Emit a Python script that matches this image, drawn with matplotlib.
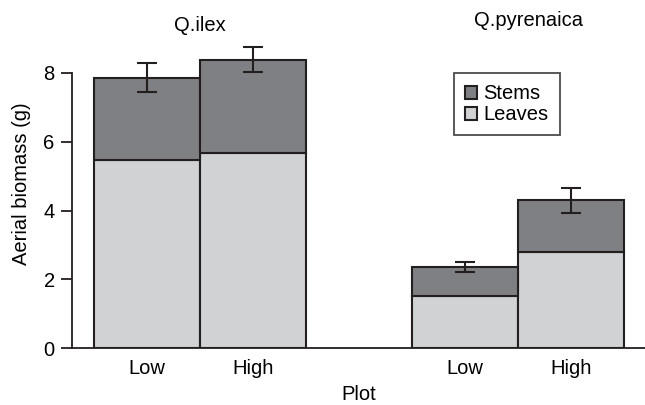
import numpy as np
import matplotlib
matplotlib.use("Agg")
import matplotlib.pyplot as plt

plt.rcParams['font.family'] = ['Liberation Sans', 'DejaVu Sans']

# data
species = ["Q.ilex", "Q.pyrenaica"]
plots = ["Low", "High", "Low", "High"]
leaves = [5.46, 5.68, 1.52, 2.78]
stems = [2.40, 2.71, 0.84, 1.52]
total_err = [0.42, 0.37, 0.15, 0.36]

xpos = np.array([0, 1, 3, 4])
dark = "#7f8083"
light = "#d1d2d4"
edge = "#231f20"
fs = 14.5

fig = plt.figure(figsize=(6.45, 4.05), dpi=100)
ax = fig.add_axes([72/645, 1-348/405, 1-72/645, (348-20)/405])

ax.bar(xpos, leaves, width=1.0, color=light, edgecolor=edge, linewidth=1.5, label="Leaves", zorder=2)
ax.bar(xpos, stems, width=1.0, bottom=leaves, color=dark, edgecolor=edge, linewidth=1.5, label="Stems", zorder=2)
tops = np.array(leaves) + np.array(stems)
ax.errorbar(xpos, tops, yerr=total_err, fmt="none", ecolor=edge, elinewidth=1.5,
            capsize=7, capthick=1.5, zorder=3)

ax.set_xlim(-0.705, 4.7)
ax.set_ylim(0, 8 * 328 / 275)
ax.spines['top'].set_visible(False)
ax.spines['right'].set_visible(False)
ax.spines['left'].set_bounds(0, 8)
for s in ['left', 'bottom']:
    ax.spines[s].set_linewidth(1.3)
    ax.spines[s].set_color(edge)
ax.set_yticks([0, 2, 4, 6, 8])
ax.tick_params(axis='y', length=8, width=1.3, color=edge, labelsize=fs, pad=4.5)
ax.set_xticks(xpos)
ax.set_xticklabels(plots)
ax.tick_params(axis='x', length=0, labelsize=fs, pad=8)
ax.set_ylabel("Aerial biomass (g)", fontsize=fs, labelpad=9)
ax.set_xlabel("Plot", fontsize=fs, labelpad=5)

# species titles above each group
ax.text(0.5, 9.39, species[0], ha='center', va='center', fontsize=fs, clip_on=False)
ax.text(3.6, 9.53, species[1], ha='center', va='center', fontsize=fs, clip_on=False)

h, l = ax.get_legend_handles_labels()
leg = ax.legend(h[::-1], l[::-1], loc='upper left', bbox_to_anchor=(0.667, 0.838),
                fontsize=fs, frameon=True, fancybox=False, handlelength=0.6,
                handleheight=0.6, handletextpad=0.3, borderpad=0.55, labelspacing=0.1,
                borderaxespad=0)
leg.get_frame().set_edgecolor(edge)
leg.get_frame().set_linewidth(1.3)

fig.savefig("out.png", dpi=100)
